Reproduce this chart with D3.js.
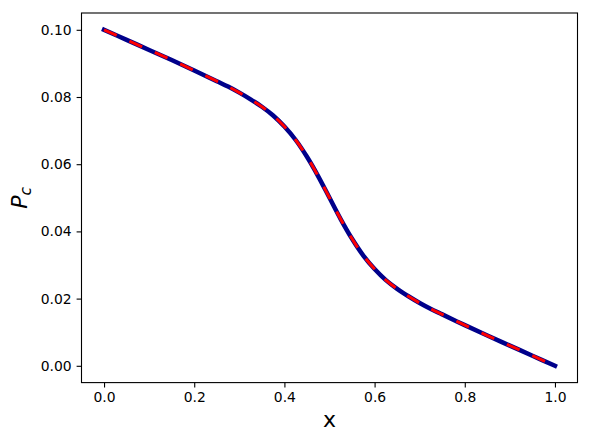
<!DOCTYPE html>
<html>
<head>
<meta charset="utf-8">
<script src="https://cdn.jsdelivr.net/npm/d3@7"></script>
<style>
  html, body { margin: 0; padding: 0; background: #fff; }
  svg { display: block; }
  text { font-family: "DejaVu Sans", sans-serif; }
</style>
</head>
<body>
<div id="chart"></div>
<script>
// ---- data ----
const xValues = [0, 0.05, 0.1, 0.15, 0.2, 0.25, 0.275, 0.3, 0.325, 0.35, 0.375, 0.4, 0.425, 0.45, 0.475, 0.5,
                 0.525, 0.55, 0.575, 0.6, 0.625, 0.65, 0.675, 0.7, 0.725, 0.75, 0.8, 0.85, 0.9, 0.95, 1.0];
const pcSolid = [0.1, 0.0970, 0.0940, 0.0910, 0.0879, 0.0847, 0.0831, 0.0813, 0.0793, 0.0771, 0.0745, 0.0712, 0.0672, 0.0622, 0.0564, 0.05,
                 0.0436, 0.0378, 0.0328, 0.0288, 0.0255, 0.0229, 0.0207, 0.0187, 0.0169, 0.0153, 0.0121, 0.0090, 0.0060, 0.0030, 0.0];
const pcDashed = [0.1, 0.0970, 0.0940, 0.0910, 0.0879, 0.0847, 0.0831, 0.0813, 0.0793, 0.0771, 0.0745, 0.0712, 0.0672, 0.0622, 0.0564, 0.05,
                  0.0436, 0.0378, 0.0328, 0.0288, 0.0255, 0.0229, 0.0207, 0.0187, 0.0169, 0.0153, 0.0121, 0.0090, 0.0060, 0.0030, 0.0];
const xTicks = [0, 0.2, 0.4, 0.6, 0.8, 1.0];
const yTicks = [0, 0.02, 0.04, 0.06, 0.08, 0.10];

// ---- layout ----
const W = 590, H = 445;
const ax = { left: 81.5, top: 13, width: 496, height: 369.6 };

const svg = d3.select("#chart").append("svg")
  .attr("width", W).attr("height", H);

const x = d3.scaleLinear().domain([-0.05, 1.05]).range([ax.left, ax.left + ax.width]);
const y = d3.scaleLinear().domain([-0.005, 0.105]).range([ax.top + ax.height, ax.top]);

// axes
const xAxis = d3.axisBottom(x).tickValues(xTicks).tickFormat(d3.format(".1f"))
  .tickSizeInner(4.9).tickSizeOuter(0).tickPadding(4.9);
const yAxis = d3.axisLeft(y).tickValues(yTicks).tickFormat(d3.format(".2f"))
  .tickSizeInner(4.9).tickSizeOuter(0).tickPadding(4.9);

const gx = svg.append("g")
  .attr("transform", `translate(0,${ax.top + ax.height})`)
  .call(xAxis);
const gy = svg.append("g")
  .attr("transform", `translate(${ax.left},0)`)
  .call(yAxis);

[gx, gy].forEach(g => {
  g.select(".domain").remove();
  g.selectAll(".tick line").attr("stroke", "#000").attr("stroke-width", 1.1);
  g.selectAll(".tick text").attr("fill", "#000")
    .style("font-family", "'DejaVu Sans', sans-serif").style("font-size", "13.9px");
});

// lines
const pts = (arr) => xValues.map((xv, i) => [xv, arr[i]]);
const line = d3.line().x(d => x(d[0])).y(d => y(d[1])).curve(d3.curveCatmullRom.alpha(0.5));

svg.append("clipPath").attr("id", "clip")
  .append("rect").attr("x", ax.left).attr("y", ax.top)
  .attr("width", ax.width).attr("height", ax.height);

const plot = svg.append("g").attr("clip-path", "url(#clip)");
plot.append("path").datum(pts(pcSolid))
  .attr("d", line).attr("fill", "none")
  .attr("stroke", "#00008b").attr("stroke-width", 4.5)
  .attr("stroke-linecap", "square").attr("stroke-linejoin", "round");
plot.append("path").datum(pts(pcDashed))
  .attr("d", line).attr("fill", "none")
  .attr("stroke", "#ff0000").attr("stroke-width", 3)
  .attr("stroke-dasharray", "13.9,13.9")
  .attr("stroke-linecap", "butt").attr("stroke-linejoin", "round");

// frame
svg.append("rect")
  .attr("x", ax.left).attr("y", ax.top)
  .attr("width", ax.width).attr("height", ax.height)
  .attr("fill", "none").attr("stroke", "#000").attr("stroke-width", 1.1);

// axis labels
svg.append("text")
  .attr("x", ax.left + ax.width / 2).attr("y", 427)
  .attr("text-anchor", "middle")
  .style("font-size", "22px").attr("fill", "#000")
  .text("x");

const yl = svg.append("text")
  .attr("transform", `translate(27,${ax.top + ax.height / 2}) rotate(-90)`)
  .attr("text-anchor", "middle")
  .style("font-size", "22px").attr("fill", "#000");
yl.append("tspan").style("font-style", "italic").text("P");
yl.append("tspan").style("font-style", "italic").style("font-size", "15.5px")
  .attr("dy", "3.5").text("c");
</script>
</body>
</html>
